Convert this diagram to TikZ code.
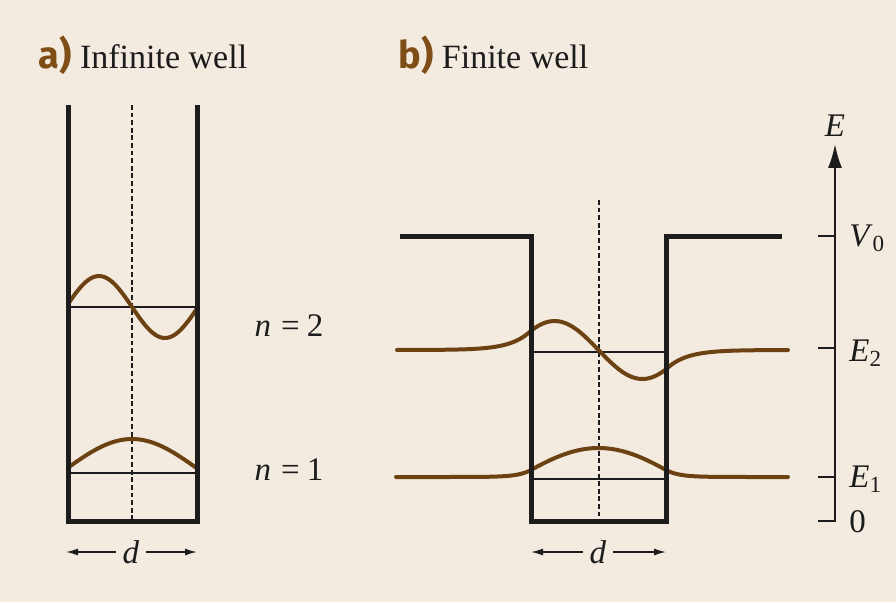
\documentclass[tikz,border=0pt]{standalone}
\usepackage{fontspec}
\setmainfont{Liberation Serif}
\setsansfont{Fira Sans}
\usetikzlibrary{arrows.meta}

\definecolor{paper}{RGB}{243,235,224}
\definecolor{ink}{RGB}{28,28,28}
\definecolor{wavebrown}{RGB}{108,66,18}
\definecolor{tagbrown}{RGB}{126,78,22}
\newcommand{\tagfont}{\fontsize{19}{22}\selectfont\sffamily\bfseries\color{tagbrown}}

\begin{document}
\begin{tikzpicture}[x=0.5pt, y=-0.5pt,
    every node/.style={font=\fontsize{16.5}{19}\selectfont, text=ink},
    title/.style={font=\fontsize{17}{20}\selectfont, anchor=base west, inner sep=0pt},
    wall/.style={ink, line width=2.5pt, line join=miter},
    level/.style={ink, line width=0.7pt},
    mid/.style={ink, line width=0.7pt, dash pattern=on 2.4pt off 1.4pt},
    wave/.style={wavebrown, line width=2pt, line cap=round},
    dim/.style={ink, line width=0.75pt, -{Latex[length=6pt,width=3.5pt]}},
    axis/.style={ink, line width=1.2pt, line join=miter}]
  \fill[paper] (0,0) rectangle (896,602);
  \useasboundingbox (0,0) rectangle (896,602);

  % titles
  \node[title] (titleA) at (38,68) {{\tagfont a)} Infinite well};
  \node[title] (titleB) at (398,68) {{\tagfont b)} Finite well};

  % a) infinite well
  \draw[mid] (132,105) -- (132,521);
  \draw[level] (68,307) -- (197,307);
  \draw[level] (68,473) -- (197,473);
  \draw[wave] plot[domain=68:197, samples=50, smooth] (\x, {307+31*sin(180*(\x-132)/66)});
  \draw[wave] plot[domain=68:197, samples=40, smooth] (\x, {468-29*cos(90*(\x-132)/64.5)});
  \draw[wall] (68,105) -- (68,521) -- (197,521) -- (197,105);
  \node (nTwo) at (289,326) {\textit{n}\hspace{0.3em}=\hspace{0.22em}2};
  \node (nOne) at (289,470) {\textit{n}\hspace{0.3em}=\hspace{0.22em}1};
  \node (dA) at (131,552) {\textit{d}};
  \coordinate (dAl) at (66,552);
  \coordinate (dAr) at (197,552);
  \draw[dim] (dA.west) -- (dAl);
  \draw[dim] (dA.east) -- (dAr);

  % b) finite well
  \draw[mid] (599,200) -- (599,521);
  \draw[level] (531,352) -- (666,352);
  \draw[level] (531,479) -- (666,479);
  \draw[wave] plot[domain=397:531, samples=40, smooth] (\x, {350-19.3*exp((\x-531)/20)})
    -- plot[domain=531:666, samples=50, smooth] (\x, {350+29*sin(2.05*(\x-598.5))})
    -- plot[domain=666:788, samples=40, smooth] (\x, {350+19.3*exp(-(\x-666)/20)});
  \draw[wave] plot[domain=396:531, samples=40, smooth] (\x, {477-7*exp((\x-531)/12.7)})
    -- plot[domain=531:666, samples=50, smooth] (\x, {477-29*cos(1.126*(\x-598.5))})
    -- plot[domain=666:788, samples=40, smooth] (\x, {477-7*exp(-(\x-666)/12.7)});
  \draw[wall] (400,236) -- (531,236) -- (531,521) -- (666,521) -- (666,236) -- (782,236);
  \node (dB) at (598,552) {\textit{d}};
  \coordinate (dBl) at (531,552);
  \coordinate (dBr) at (666,552);
  \draw[dim] (dB.west) -- (dBl);
  \draw[dim] (dB.east) -- (dBr);

  % energy axis
  \node (eAxis) at (835,126) {\textit{E}};
  \coordinate (origin) at (835,521);
  \draw[axis, -{Latex[length=12pt,width=7pt]}] (818,521) -- (origin) -- (eAxis.south);
  \draw[axis] (818,236) -- (835,236);
  \draw[axis] (818,348) -- (835,348);
  \draw[axis] (818,477) -- (835,477);
  \node[anchor=west, inner sep=0pt] (vZero) at (849,238) {\textit{V}\textsubscript{0}};
  \node[anchor=west, inner sep=0pt] (eTwo) at (849,353) {\textit{E}\textsubscript{2}};
  \node[anchor=west, inner sep=0pt] (eOne) at (849,479) {\textit{E}\textsubscript{1}};
  \node[anchor=west, inner sep=0pt] (zero) at (849,522) {0};
\end{tikzpicture}
\end{document}
